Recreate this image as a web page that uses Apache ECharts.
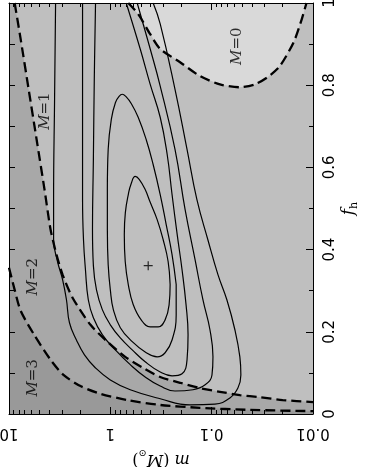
<!DOCTYPE html>
<html>
<head>
<meta charset="utf-8">
<script src="https://cdn.jsdelivr.net/npm/echarts@6/dist/echarts.min.js"></script>
<style>
  html, body { margin: 0; padding: 0; background: #fff; }
  #chart { width: 374px; height: 467px; }
</style>
</head>
<body>
<div id="chart"></div>
<script>
// axis ranges / ticks
const mRange = [0.01, 10]
const fRange = [0, 1]
const mMinor = [0.02, 0.03, 0.04, 0.05, 0.06, 0.07, 0.08, 0.09,
  0.2, 0.3, 0.4, 0.5, 0.6, 0.7, 0.8, 0.9, 2, 3, 4, 5, 6, 7, 8, 9]

// dashed boundaries between M regions  [m, f_h]
const bound01 = [[0.665, 1], [0.531, 0.973], [0.404, 0.924], [0.322, 0.888], [0.205, 0.856],
  [0.130, 0.822], [0.0828, 0.802], [0.0527, 0.795], [0.0375, 0.802], [0.0279, 0.820],
  [0.0213, 0.846], [0.0155, 0.905], [0.0129, 0.961], [0.0116, 1]]
const bound12 = [[8.79, 1], [7.67, 0.912], [6.40, 0.790], [5.34, 0.668], [4.46, 0.546],
  [3.89, 0.449], [3.40, 0.388], [2.96, 0.339], [2.36, 0.283], [1.57, 0.217], [1.07, 0.176],
  [0.713, 0.139], [0.474, 0.112], [0.322, 0.090], [0.205, 0.076], [0.130, 0.063],
  [0.0828, 0.054], [0.0527, 0.046], [0.0335, 0.041], [0.0199, 0.034], [0.01, 0.029]]
const bound23 = [[10, 0.356], [8.79, 0.302], [7.67, 0.251], [5.72, 0.195], [3.89, 0.132],
  [2.90, 0.095], [1.97, 0.068], [1.25, 0.049], [0.681, 0.034], [0.322, 0.022],
  [0.130, 0.015], [0.0420, 0.010], [0.01, 0.007]]

// likelihood contours (closed ones start on the right flank)
const contourA = [[0.257, 0.315], [0.263, 0.266], [0.288, 0.229], [0.337, 0.212], [0.404, 0.212],
  [0.496, 0.229], [0.594, 0.266], [0.665, 0.315], [0.713, 0.371], [0.728, 0.437], [0.711, 0.490],
  [0.665, 0.534], [0.622, 0.561], [0.568, 0.578], [0.519, 0.571], [0.453, 0.546], [0.404, 0.515],
  [0.345, 0.473], [0.301, 0.424], [0.269, 0.371], [0.257, 0.315]]
const contourB = [[0.224, 0.315], [0.224, 0.241], [0.246, 0.180],
  [0.288, 0.149], [0.345, 0.139], [0.453, 0.151], [0.608, 0.176], [0.797, 0.210], [0.934, 0.254],
  [1.00, 0.302], [1.05, 0.363], [1.07, 0.449], [1.07, 0.546], [1.05, 0.644], [0.978, 0.717],
  [0.890, 0.758], [0.820, 0.773], [0.762, 0.778], [0.700, 0.772], [0.620, 0.755], [0.531, 0.722],
  [0.443, 0.668], [0.378, 0.607], [0.322, 0.534], [0.281, 0.461], [0.246, 0.388], [0.224, 0.315]]
const contourC = [[1.40, 1], [1.44, 0.815], [1.47, 0.620], [1.50, 0.449], [1.47, 0.361],
  [1.37, 0.302], [1.20, 0.254], [1.00, 0.217], [0.797, 0.185], [0.608, 0.156], [0.453, 0.127],
  [0.322, 0.102], [0.246, 0.093], [0.196, 0.098], [0.175, 0.132], [0.171, 0.193], [0.179, 0.266],
  [0.196, 0.351], [0.219, 0.437], [0.246, 0.534], [0.275, 0.632], [0.322, 0.722], [0.404, 0.802],
  [0.507, 0.888], [0.697, 1]]
const contourD = [[1.88, 1], [1.88, 0.766], [1.88, 0.522], [1.84, 0.424], [1.76, 0.351],
  [1.65, 0.278], [1.47, 0.234], [1.20, 0.193], [0.893, 0.156], [0.636, 0.120], [0.453, 0.090],
  [0.322, 0.068], [0.230, 0.056], [0.153, 0.059], [0.116, 0.071], [0.0993, 0.095], [0.0971, 0.139],
  [0.104, 0.205], [0.122, 0.278], [0.146, 0.376], [0.183, 0.498], [0.230, 0.644], [0.322, 0.798],
  [0.404, 0.888], [0.543, 1]]
const contourE = [[3.47, 1], [3.55, 0.766], [3.63, 0.522], [3.63, 0.424], [3.32, 0.371],
  [2.96, 0.327], [2.71, 0.278], [2.53, 0.222], [2.16, 0.180], [1.80, 0.144], [1.40, 0.112],
  [1.00, 0.083], [0.636, 0.059], [0.322, 0.037], [0.163, 0.022], [0.0929, 0.024], [0.0661, 0.039],
  [0.0551, 0.063], [0.0515, 0.095], [0.0527, 0.139], [0.0590, 0.205], [0.0708, 0.278],
  [0.0867, 0.339], [0.109, 0.424], [0.140, 0.522], [0.175, 0.644], [0.230, 0.790], [0.322, 0.949],
  [0.378, 1]]

const peak = [0.423, 0.361]
const regionNames = ['0', '1', '2', '3']
const regionLabelPos = [[0.0564, 0.895], [4.36, 0.737], [5.72, 0.334], [5.72, 0.088]]

const C0 = '#d9d9d9', C1 = '#bfbfbf', C2 = '#a8a8a8', C3 = '#999999'

const regions = [
  { pts: bound01, color: C0 },
  { pts: bound12.concat([[mRange[0], fRange[0]], [mRange[1], fRange[0]], [mRange[1], fRange[1]]]), color: C2 },
  { pts: bound23.concat([[mRange[0], fRange[0]], [mRange[1], fRange[0]]]), color: C3 }
]

const black = '#000'
function xAx(pos, minor) {
  return {
    type: 'log', logBase: 10, min: mRange[0], max: mRange[1], inverse: true,
    position: pos, z: 10,
    axisLine: { show: !minor, lineStyle: { color: black, width: 1 } },
    axisTick: minor
      ? { show: true, inside: true, length: 4, customValues: mMinor, lineStyle: { color: black } }
      : { show: true, inside: true, length: 7, lineStyle: { color: black } },
    axisLabel: { show: false },
    splitLine: { show: false }
  }
}

const xMain = xAx('bottom', false)
xMain.axisLabel = {
  show: true, rotate: 180, margin: 11, color: black,
  fontFamily: 'DejaVu Sans', fontSize: 15,
  formatter: v => String(+v.toPrecision(2))
}
xMain.name = '{i|m} ({i|M}{s|⊙})'
xMain.nameLocation = 'middle'
xMain.nameGap = 34
xMain.nameRotate = 180
xMain.nameMoveOverlap = false
xMain.nameTextStyle = {
  color: black, fontFamily: 'DejaVu Serif', fontSize: 16,
  rich: {
    i: { fontFamily: 'DejaVu Serif', fontStyle: 'italic', fontSize: 16, lineHeight: 22, color: black },
    s: { fontFamily: 'DejaVu Serif', fontSize: 10, lineHeight: 10, verticalAlign: 'bottom', color: black }
  }
}

const lineSeries = (data, dashed, z) => ({
  type: 'line', data, symbol: 'none', silent: true, z,
  smooth: dashed ? 0.25 : 0.45,
  lineStyle: dashed ? { color: black, width: 2.3, type: [10, 5] } : { color: black, width: 1.2 }
})

const chart = echarts.init(document.getElementById('chart'))
chart.setOption({
  animation: false,
  backgroundColor: '#fff',
  grid: { left: 9, right: 61, top: 3, bottom: 53, show: true, backgroundColor: C1, borderWidth: 0, outerBoundsMode: 'none' },
  xAxis: [xMain, xAx('bottom', true), xAx('top', false), xAx('top', true)],
  yAxis: [
    {
      type: 'value', min: fRange[0], max: fRange[1], interval: 0.2, position: 'right', z: 10,
      axisLine: { show: true, lineStyle: { color: black, width: 1 } },
      axisTick: { show: true, inside: true, length: 7, lineStyle: { color: black } },
      minorTick: { show: true, splitNumber: 2, length: 4, lineStyle: { color: black } },
      splitLine: { show: false },
      axisLabel: {
        rotate: 90, margin: 10, color: black, fontFamily: 'DejaVu Sans', fontSize: 15,
        formatter: v => String(+v.toFixed(1))
      },
      name: '{i|f}{s|h}', nameLocation: 'middle', nameGap: 25, nameRotate: 90, nameMoveOverlap: false,
      nameTextStyle: {
        color: black,
        rich: {
          i: { fontFamily: 'DejaVu Serif', fontStyle: 'italic', fontSize: 17, lineHeight: 22, color: black },
          s: { fontFamily: 'DejaVu Serif', fontSize: 11, lineHeight: 11, verticalAlign: 'bottom', color: black }
        }
      }
    },
    {
      type: 'value', min: fRange[0], max: fRange[1], interval: 0.1, position: 'left', z: 10,
      axisLine: { show: true, lineStyle: { color: black, width: 1 } },
      axisTick: { show: true, inside: true, length: 6, lineStyle: { color: black } },
      axisLabel: { show: false },
      splitLine: { show: false }
    }
  ],
  series: [
    {
      type: 'custom', silent: true, z: 1,
      data: regions.map(r => r.pts[0]),
      renderItem: (params, api) => {
        const r = regions[params.dataIndex]
        return {
          type: 'polygon',
          shape: { points: r.pts.map(p => api.coord(p)) },
          style: { fill: r.color, stroke: null }
        }
      }
    },
    lineSeries(bound01, true, 3),
    lineSeries(bound12, true, 3),
    lineSeries(bound23, true, 3),
    lineSeries(contourA, false, 4),
    lineSeries(contourB, false, 4),
    lineSeries(contourC, false, 4),
    lineSeries(contourD, false, 4),
    lineSeries(contourE, false, 4),
    {
      type: 'scatter', z: 5, silent: true,
      symbol: 'path://M0 5H10M5 0V10', symbolSize: 9,
      itemStyle: { color: 'none', borderColor: black, borderWidth: 1.2 },
      data: [peak]
    },
    {
      type: 'scatter', z: 5, silent: true, symbolSize: 0,
      data: regionLabelPos.map((p, i) => ({ name: regionNames[i], value: p })),
      label: {
        show: true, position: 'inside', rotate: 90,
        formatter: p => '{i|M}{n|=' + p.name + '}',
        rich: {
          i: { fontFamily: 'DejaVu Serif', fontStyle: 'italic', fontSize: 15, color: black },
          n: { fontFamily: 'DejaVu Serif', fontSize: 15, color: black }
        }
      }
    }
  ]
})
</script>
</body>
</html>
